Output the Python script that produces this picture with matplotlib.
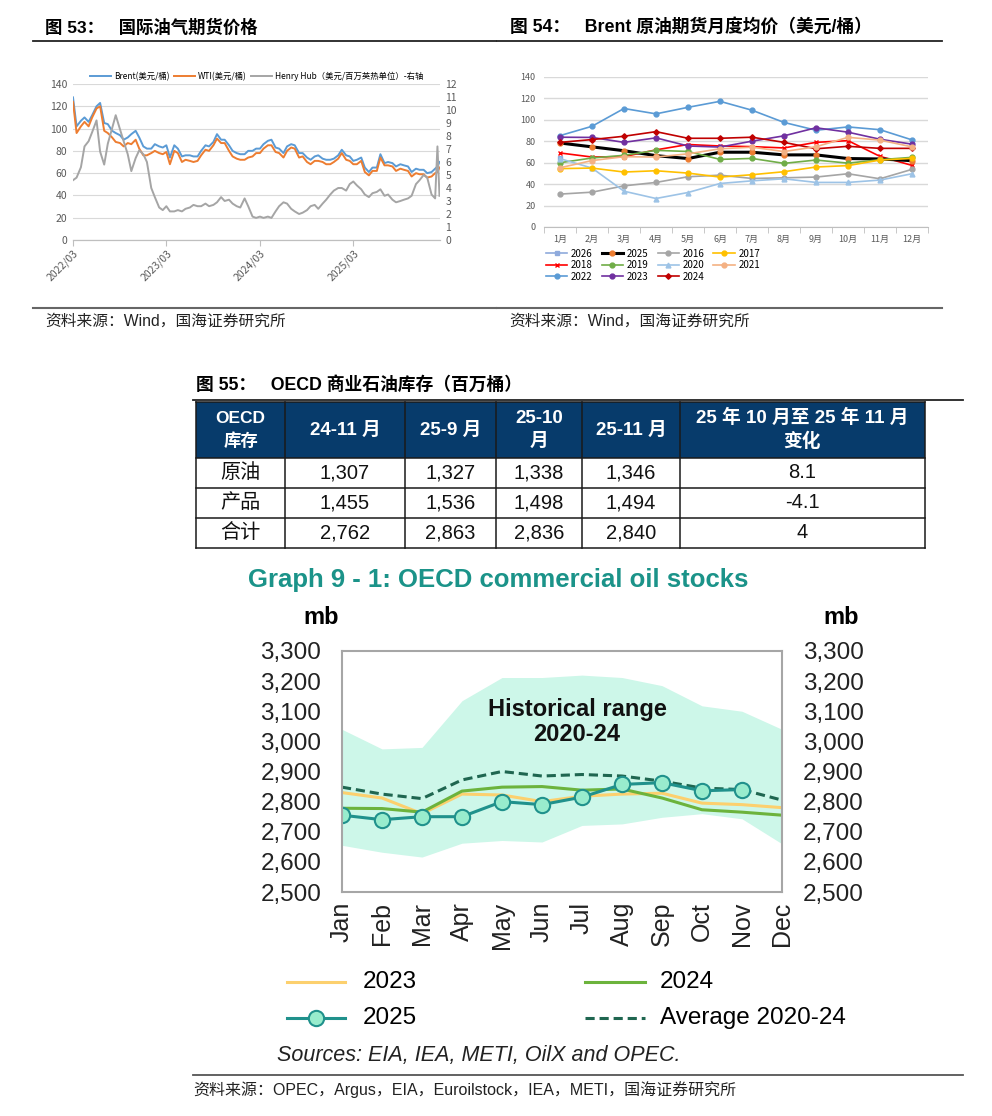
import pandas as pd
import matplotlib
matplotlib.use('Agg')
import matplotlib.pyplot as plt
from matplotlib.patches import Rectangle

plt.rcParams['font.family'] = ['Noto Sans CJK SC', 'DejaVu Sans']

W, H = 992, 1116

# ---------------- 图53 国际油气期货价格 (half-monthly readings) ----------------
dates53 = list(pd.date_range('2022-03-01', '2026-01-15', freq='SMS')) + \
    [pd.Timestamp('2026-01-24'), pd.Timestamp('2026-02-01')]
brent53 = [128, 102, 107, 110, 106, 112, 120, 123, 105, 104, 98, 96, 94, 90, 92, 95, 98, 92, 84, 82,
           82, 86, 84, 83, 85, 74, 85, 82, 75, 76, 76, 75, 75, 80, 85, 84, 88, 95, 90, 90, 85, 80, 78, 77,
           77, 80, 80, 82, 82, 86, 89, 90, 83, 82, 78, 84, 86, 85, 78, 78, 74, 72, 75, 76, 73, 72, 72, 73,
           76, 81, 76, 75, 71, 72, 74, 65, 61, 65, 65, 77, 69, 70, 69, 66, 68, 67, 66, 61, 64, 63, 63, 60,
           61, 64, 66, 70]
wti53 = [124, 96, 102, 106, 102, 110, 118, 120, 98, 96, 92, 88, 87, 84, 87, 86, 90, 82, 76, 76,
         78, 80, 78, 77, 79, 68, 80, 78, 70, 72, 71, 70, 71, 76, 81, 80, 85, 91, 87, 87, 80, 75, 73, 72,
         72, 74, 75, 78, 78, 82, 85, 85, 79, 78, 74, 80, 83, 82, 74, 75, 70, 68, 71, 71, 70, 68, 68, 70,
         73, 78, 72, 71, 68, 68, 71, 61, 58, 62, 62, 74, 67, 67, 66, 62, 64, 63, 62, 57, 60, 59, 59, 56,
         57, 60, 61, 65]
hh53 = [4.6, 4.8, 5.6, 7.2, 7.6, 8.3, 9.2, 6.8, 5.8, 7.4, 8.6, 9.6, 8.5, 7.6, 6.6, 5.3, 6.3, 6.9, 6.6, 6.0,
        4.0, 3.3, 2.5, 2.3, 2.6, 2.2, 2.2, 2.3, 2.2, 2.4, 2.5, 2.7, 2.6, 2.6, 2.8, 2.6, 2.7, 2.9, 3.3, 3.0, 3.1, 2.8, 2.6, 2.5,
        3.2, 2.6, 1.8, 1.7, 1.8, 1.7, 1.8, 1.7, 2.2, 2.6, 2.9, 2.8, 2.4, 2.2, 2.0, 2.1, 2.3, 2.6, 2.7, 2.4, 2.8, 3.1, 3.5, 3.8,
        4.0, 4.0, 3.8, 4.3, 4.5, 4.2, 3.9, 3.5, 3.3, 3.6, 3.7, 3.9, 3.4, 3.5, 3.1, 2.9, 3.0, 3.1, 3.2, 3.4, 4.3, 4.6, 5.0, 4.8,
        3.5, 3.2, 7.2, 3.4]
ticks53 = ['2022-03-01', '2023-03-01', '2024-03-01', '2025-03-01']
ticklabels53 = ['2022/03', '2023/03', '2024/03', '2025/03']

# ---------------- 图54 Brent 月度均价 ----------------
months54 = ['1月', '2月', '3月', '4月', '5月', '6月', '7月', '8月', '9月', '10月', '11月', '12月']
y2016 = [30.7, 32.5, 38.4, 41.6, 46.9, 48.4, 45.3, 45.9, 46.6, 49.7, 45.0, 53.8]
y2017 = [54.5, 55.0, 51.3, 52.5, 50.3, 46.6, 48.8, 51.6, 56.0, 57.3, 62.5, 64.0]
y2018 = [69.1, 65.3, 65.7, 72.0, 77.0, 75.6, 75.0, 73.8, 79.0, 80.6, 65.9, 57.5]
y2019 = [60.0, 64.4, 66.9, 71.5, 70.5, 63.1, 64.0, 59.4, 62.5, 59.6, 62.8, 65.0]
y2020 = [63.8, 55.0, 33.4, 26.6, 32.2, 40.6, 43.1, 45.0, 41.6, 41.6, 43.8, 49.7]
y2021 = [55.3, 62.0, 65.6, 65.3, 68.3, 73.0, 74.5, 70.4, 74.9, 83.7, 81.1, 74.8]
y2022 = [85.3, 94.0, 110.6, 105.6, 111.7, 117.3, 109.0, 97.6, 90.3, 93.4, 90.8, 81.3]
y2023 = [83.8, 83.6, 79.0, 83.2, 75.6, 74.6, 80.1, 85.1, 92.6, 88.5, 81.9, 77.3]
y2024 = [79.0, 81.6, 84.7, 89.0, 82.8, 82.8, 83.8, 79.0, 73.0, 75.3, 73.4, 73.4]
y2025 = [78.4, 74.8, 71.2, 66.6, 63.9, 69.8, 69.8, 67.3, 67.3, 63.9, 63.5, 61.9]
y2026 = [64.8]

# ---------------- 图55 OECD 商业石油库存 ----------------
table_header = ['OECD\n库存', '24-11 月', '25-9 月', '25-10\n月', '25-11 月', '25 年 10 月至 25 年 11 月\n变化']
row_labels = ['原油', '产品', '合计']
stock_2411 = ['1,307', '1,455', '2,762']
stock_2509 = ['1,327', '1,536', '2,863']
stock_2510 = ['1,338', '1,498', '2,836']
stock_2511 = ['1,346', '1,494', '2,840']
stock_change = ['8.1', '-4.1', '4']

# ---------------- Graph 9-1 OECD commercial oil stocks ----------------
months91 = ['Jan', 'Feb', 'Mar', 'Apr', 'May', 'Jun', 'Jul', 'Aug', 'Sep', 'Oct', 'Nov', 'Dec']
range_hi = [3040, 2975, 2980, 3135, 3212, 3212, 3220, 3212, 3185, 3118, 3100, 3040]
range_lo = [2655, 2632, 2616, 2662, 2671, 2666, 2721, 2726, 2748, 2760, 2743, 2660]
stk2023 = [2830, 2812, 2760, 2825, 2822, 2800, 2818, 2825, 2828, 2795, 2790, 2780]
stk2024 = [2778, 2777, 2765, 2835, 2848, 2850, 2838, 2842, 2812, 2773, 2765, 2755]
avg2020_24 = [2848, 2825, 2810, 2872, 2900, 2885, 2890, 2885, 2868, 2845, 2840, 2805]
stk2025 = [2755, 2740, 2750, 2750, 2800, 2790, 2815, 2857, 2863, 2836, 2840]


def rect(x0, y0, x1, y1):
    return [x0 / W, 1 - y1 / H, (x1 - x0) / W, (y1 - y0) / H]


fig = plt.figure(figsize=(W / 100, H / 100), dpi=100)
fig.patch.set_facecolor('white')

# overlay in pixel coordinates for titles, rules and the table
ov = fig.add_axes([0, 0, 1, 1])
ov.set_xlim(0, W)
ov.set_ylim(H, 0)
ov.axis('off')

latin_cjk = ['Liberation Sans', 'Noto Sans CJK SC']

ov.text(45, 27, '图 53：   国际油气期货价格', fontsize=12.5, fontweight='bold', va='center', family=latin_cjk)
ov.text(510, 27, '图 54：   Brent 原油期货月度均价（美元/桶）', fontsize=12.8, fontweight='bold', va='center',
        family=latin_cjk)
ov.plot([33, 496], [41, 41], color='#222222', lw=1.3)
ov.plot([497, 942], [41, 41], color='#222222', lw=1.3)
ov.plot([33, 496], [308, 308], color='#666666', lw=1.5)
ov.plot([497, 942], [308, 308], color='#666666', lw=1.5)
ov.text(45, 321, '资料来源：Wind，国海证券研究所', fontsize=11.3, va='center', color='#222222', family=latin_cjk)
ov.text(509, 321, '资料来源：Wind，国海证券研究所', fontsize=11.3, va='center', color='#222222', family=latin_cjk)

# ---- chart 53 ----
ax1 = fig.add_axes(rect(73, 84, 440, 240))
d53 = pd.to_datetime(dates53)
ax1.plot(d53, brent53, color='#5b9bd5', lw=1.4, label='Brent(美元/桶)')
ax1.plot(d53, wti53, color='#ed7d31', lw=1.4, label='WTI(美元/桶)')
ax1.set_ylim(0, 140)
ax1.set_yticks(range(0, 141, 20))
ax1.set_xlim(pd.Timestamp('2022-03-01'), pd.Timestamp('2026-02-03'))
ax1.set_xticks(pd.to_datetime(ticks53))
ax1.set_xticklabels(ticklabels53, rotation=45, ha='right', rotation_mode='anchor')
ax1.grid(axis='y', color='#d9d9d9', lw=0.8)
ax1.set_axisbelow(True)
ax1b = ax1.twinx()
ax1b.plot(d53, hh53, color='#a5a5a5', lw=1.4, label='Henry Hub（美元/百万英热单位）-右轴')
ax1b.set_ylim(0, 12)
ax1b.set_yticks(range(0, 13))
for a in (ax1, ax1b):
    for s in ['top', 'left', 'right']:
        a.spines[s].set_visible(False)
    a.spines['bottom'].set_color('#bfbfbf')
    a.tick_params(axis='y', length=0, labelsize=7.5, labelcolor='#595959', pad=4)
ax1.tick_params(axis='x', length=4, color='#bfbfbf', labelsize=7.5, labelcolor='#595959', pad=2)
h1, l1 = ax1.get_legend_handles_labels()
h2, l2 = ax1b.get_legend_handles_labels()
ax1.legend(h1 + h2, l1 + l2, loc='lower center', bbox_to_anchor=(0.5, 0.99), ncol=3, frameon=False,
           fontsize=6, handlelength=2.6, columnspacing=0.5, handletextpad=0.3, borderpad=0)

# ---- chart 54 ----
ax2 = fig.add_axes(rect(544, 77, 928, 227))
xi = list(range(12))
series54 = [
    ('2026', y2026, dict(color='#8faadc', marker='s')),
    ('2018', y2018, dict(color='#ff0000', marker='x')),
    ('2022', y2022, dict(color='#5b9bd5', marker='o')),
    ('2025', y2025, dict(color='#000000', marker='o', mfc='#ed7d31', mec='#ed7d31', lw=2.2)),
    ('2019', y2019, dict(color='#70ad47', marker='o')),
    ('2023', y2023, dict(color='#7030a0', marker='o')),
    ('2016', y2016, dict(color='#a5a5a5', marker='o')),
    ('2020', y2020, dict(color='#9dc3e6', marker='^')),
    ('2024', y2024, dict(color='#c00000', marker='D', ms=2.8)),
    ('2017', y2017, dict(color='#ffc000', marker='o')),
    ('2021', y2021, dict(color='#f4b183', marker='o')),
]
handles54 = []
for name, vals, st in series54:
    kw = dict(lw=1.2, ms=3.5)
    kw.update(st)
    ln, = ax2.plot(xi[:len(vals)], vals, label=name, **kw)
    handles54.append(ln)
ax2.set_xlim(-0.5, 11.5)
ax2.set_ylim(0, 140)
ax2.set_yticks(range(0, 141, 20))
ax2.set_xticks(xi)
ax2.set_xticklabels(months54)
ax2.set_xticks([i - 0.5 for i in range(13)], minor=True)
ax2.grid(axis='y', color='#d9d9d9', lw=1)
ax2.set_axisbelow(True)
for s in ['top', 'left', 'right']:
    ax2.spines[s].set_visible(False)
ax2.spines['bottom'].set_color('#bfbfbf')
ax2.tick_params(axis='y', length=0, labelsize=6.5, labelcolor='#595959', pad=6)
ax2.tick_params(axis='x', which='major', length=0, labelsize=6.5, labelcolor='#595959', pad=6)
ax2.tick_params(axis='x', which='minor', length=4, color='#bfbfbf')
ax2.legend(handles=handles54, ncol=4, loc='upper left', bbox_to_anchor=(541 / W, 1 - 244 / H),
           bbox_transform=fig.transFigure, frameon=False, fontsize=7, handlelength=2.2,
           columnspacing=0.9, labelspacing=0.15, handletextpad=0.4, borderpad=0)

# ---- 图55 table ----
ov.text(196, 385, '图 55：   OECD 商业石油库存（百万桶）', fontsize=12.8, fontweight='bold', va='center',
        family=latin_cjk)
ov.plot([193, 963], [400, 400], color='#222222', lw=1.3)
col_x = [196, 285, 405, 496, 582, 680, 925]
row_y = [402, 458, 488, 518, 548]
navy = '#073b6b'
ov.add_patch(Rectangle((col_x[0], row_y[0]), col_x[-1] - col_x[0], row_y[1] - row_y[0],
                       facecolor=navy, edgecolor='none'))
for j, txt in enumerate(table_header):
    cx = (col_x[j] + col_x[j + 1]) / 2
    fs = 12.5 if j == 0 else 13.5
    ov.text(cx, (row_y[0] + row_y[1]) / 2, txt, color='white', fontsize=fs, fontweight='bold',
            ha='center', va='center', linespacing=1.45, family=latin_cjk)
columns = [row_labels, stock_2411, stock_2509, stock_2510, stock_2511, stock_change]
for i in range(3):
    cy = (row_y[i + 1] + row_y[i + 2]) / 2
    for j, col in enumerate(columns):
        cx = (col_x[j] + col_x[j + 1]) / 2
        fam = ['Noto Sans CJK SC'] if j == 0 else latin_cjk
        ov.text(cx, cy, col[i], fontsize=14.5, ha='center', va='center', color='#111111', family=fam)
for y in row_y:
    ov.plot([col_x[0], col_x[-1]], [y, y], color='#1a1a1a', lw=1.1)
for x in col_x:
    ov.plot([x, x], [row_y[0], row_y[-1]], color='#1a1a1a', lw=1.1)

# ---- Graph 9-1 ----
teal = '#1b9389'
en = ['Liberation Sans', 'DejaVu Sans']
ov.text(248, 580, 'Graph 9 - 1: OECD commercial oil stocks', color=teal, fontsize=18.5,
        fontweight='bold', va='center', family=en)
ov.text(321, 617, 'mb', fontsize=17, fontweight='bold', ha='center', va='center', family=en)
ov.text(841, 617, 'mb', fontsize=17, fontweight='bold', ha='center', va='center', family=en)

ax3 = fig.add_axes(rect(342, 651, 782, 892))
m = list(range(12))
ax3.fill_between(m, range_lo, range_hi, color='#cdf7e9', lw=0)
ax3.plot(m, stk2023, color='#fcd06e', lw=2.2)
ax3.plot(m, stk2024, color='#6cb33c', lw=2.2)
ax3.plot(m, avg2020_24, color='#1f6650', lw=2.2, ls=(0, (3, 1.6)))
ax3.plot(m[:len(stk2025)], stk2025, color='#20918c', lw=2.2, marker='o', ms=11,
         mfc='#98eccd', mec='#20918c', mew=1.5)
ax3.text(5.875, 3065, 'Historical range\n2020-24', fontsize=17, fontweight='bold', ha='center',
         va='center', linespacing=1.1, family=en, color='#111111')
ax3.set_xlim(0, 11)
ax3.set_ylim(2500, 3300)
ax3.set_yticks(range(2500, 3301, 100))
ax3.set_yticklabels(['{:,}'.format(v) for v in range(2500, 3301, 100)], family=en)
ax3.set_xticks(m)
ax3.set_xticklabels(months91, rotation=90, family=en)
ax3.tick_params(axis='y', length=0, labelsize=17.5, pad=15, labelleft=True, labelright=True, labelcolor='#222222')
ax3.tick_params(axis='x', length=0, labelsize=18, pad=7, labelcolor='#222222')
for s in ax3.spines.values():
    s.set_color('#a6a6a6')
    s.set_linewidth(1.5)

# legend drawn in pixel space
ov.plot([287, 345], [982, 982], color='#fcd06e', lw=2.2)
ov.text(363, 982, '2023', fontsize=17.5, va='center', family=en)
ov.plot([585, 645], [982, 982], color='#6cb33c', lw=2.2)
ov.text(660, 982, '2024', fontsize=17.5, va='center', family=en)
ov.plot([287, 345], [1018, 1018], color='#20918c', lw=2.2)
ov.plot([316], [1018], marker='o', ms=11, mfc='#98eccd', mec='#20918c', mew=1.5)
ov.text(363, 1018, '2025', fontsize=17.5, va='center', family=en)
ov.plot([585, 645], [1018, 1018], color='#1f6650', lw=2.2, ls=(0, (3, 1.6)))
ov.text(660, 1018, 'Average 2020-24', fontsize=17.5, va='center', family=en)
ov.text(277, 1055, 'Sources: EIA, IEA, METI, OilX and OPEC.', fontsize=15.5, style='italic',
        va='center', family=en, color='#222222')

ov.plot([193, 963], [1075, 1075], color='#555555', lw=1.3)
ov.text(193, 1090, '资料来源：OPEC，Argus，EIA，Euroilstock，IEA，METI，国海证券研究所', fontsize=11.5,
        va='center', color='#222222', family=latin_cjk)

fig.savefig('out.png', dpi=100)
